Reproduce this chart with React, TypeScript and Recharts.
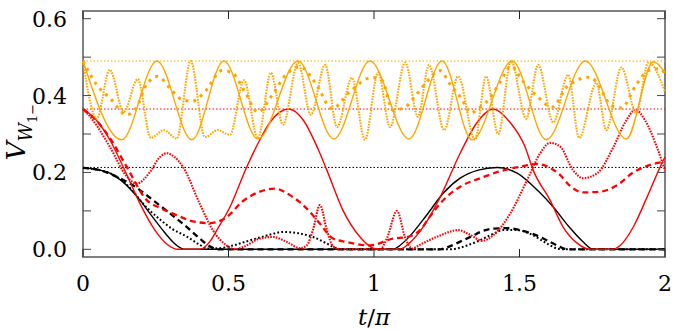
import { LineChart, Line, XAxis, YAxis, ReferenceLine, ReferenceArea } from 'recharts';

type Pt = [number, number];

// x in units of t/pi, y = V_{W1-}
const orangeSolid: Pt[] = [
  [0, 0.49], [0.133, 0.285], [0.254, 0.49], [0.374, 0.285], [0.484, 0.49], [0.601, 0.287],
  [0.739, 0.49], [0.862, 0.287], [0.986, 0.49], [1.12, 0.287], [1.234, 0.49], [1.337, 0.285],
  [1.475, 0.49], [1.592, 0.285], [1.726, 0.49], [1.867, 0.287], [1.96, 0.488], [2.0, 0.46],
];

const orangeDashed: Pt[] = [
  [0, 0.49], [0.051, 0.424], [0.092, 0.394], [0.15, 0.35], [0.185, 0.37], [0.212, 0.42],
  [0.257, 0.45], [0.298, 0.42], [0.34, 0.39], [0.374, 0.385], [0.419, 0.41], [0.477, 0.465],
  [0.512, 0.46], [0.556, 0.41], [0.601, 0.357], [0.649, 0.4], [0.697, 0.454], [0.746, 0.475],
  [0.801, 0.43], [0.856, 0.366], [0.917, 0.41], [0.993, 0.447], [1.027, 0.44], [1.065, 0.362],
  [1.107, 0.37], [1.141, 0.398], [1.175, 0.43], [1.227, 0.465], [1.261, 0.43], [1.299, 0.394],
  [1.333, 0.355], [1.365, 0.37], [1.399, 0.394], [1.437, 0.44], [1.471, 0.477], [1.509, 0.44],
  [1.561, 0.398], [1.612, 0.37], [1.664, 0.424], [1.743, 0.448], [1.777, 0.42], [1.812, 0.376],
  [1.85, 0.368], [1.901, 0.428], [1.943, 0.465], [1.984, 0.47], [2.0, 0.455],
];

const orangeDotted: Pt[] = [
  [0, 0.49], [0.047, 0.34], [0.092, 0.467], [0.14, 0.357], [0.188, 0.443], [0.233, 0.29],
  [0.278, 0.31], [0.322, 0.288], [0.37, 0.49], [0.419, 0.292], [0.463, 0.31], [0.505, 0.298],
  [0.553, 0.44], [0.601, 0.289], [0.646, 0.459], [0.687, 0.324], [0.739, 0.485], [0.783, 0.35],
  [0.832, 0.48], [0.873, 0.318], [0.924, 0.446], [0.969, 0.285], [1.014, 0.46], [1.055, 0.318],
  [1.107, 0.486], [1.151, 0.345], [1.189, 0.48], [1.241, 0.31], [1.289, 0.45], [1.347, 0.285],
  [1.385, 0.45], [1.427, 0.3], [1.471, 0.49], [1.523, 0.34], [1.564, 0.48], [1.616, 0.33],
  [1.667, 0.454], [1.705, 0.29], [1.764, 0.433], [1.798, 0.31], [1.85, 0.473], [1.901, 0.355],
  [1.943, 0.486], [2.0, 0.41],
];

const redSolid: Pt[] = [
  [0, 0.365], [0.047, 0.335], [0.092, 0.285], [0.147, 0.2], [0.195, 0.12], [0.247, 0.05],
  [0.291, 0.012], [0.326, 0], [0.401, 0], [0.436, 0.02], [0.46, 0.05], [0.505, 0.11],
  [0.563, 0.215], [0.608, 0.285], [0.642, 0.33], [0.708, 0.365], [0.756, 0.337], [0.814, 0.25],
  [0.838, 0.206], [0.893, 0.102], [0.952, 0.032], [0.997, 0.003], [1.021, 0], [1.089, 0],
  [1.124, 0.018], [1.175, 0.065], [1.227, 0.135], [1.296, 0.25], [1.354, 0.33], [1.409, 0.365],
  [1.468, 0.33], [1.519, 0.267], [1.547, 0.206], [1.605, 0.128], [1.65, 0.058], [1.698, 0.016],
  [1.743, 0], [1.819, 0], [1.846, 0.01], [1.891, 0.058], [1.939, 0.137], [1.984, 0.215], [2.0, 0.24],
];

const redDashed: Pt[] = [
  [0, 0.365], [0.04, 0.34], [0.092, 0.29], [0.15, 0.215], [0.219, 0.128], [0.264, 0.108],
  [0.309, 0.093], [0.377, 0.073], [0.436, 0.068], [0.494, 0.084], [0.549, 0.125], [0.608, 0.15],
  [0.659, 0.158], [0.711, 0.141], [0.769, 0.106], [0.814, 0.067], [0.859, 0.028], [0.907, 0.019],
  [0.986, 0.01], [1.065, 0.028], [1.114, 0.032], [1.158, 0.05], [1.192, 0.085], [1.227, 0.119],
  [1.296, 0.163], [1.365, 0.185], [1.433, 0.203], [1.502, 0.215], [1.561, 0.222], [1.605, 0.212],
  [1.64, 0.193], [1.671, 0.167], [1.719, 0.148], [1.777, 0.15], [1.836, 0.167], [1.891, 0.2],
  [1.96, 0.222], [2.0, 0.228],
];

const redDotted: Pt[] = [
  [0, 0.365], [0.033, 0.337], [0.092, 0.267], [0.15, 0.19], [0.185, 0.171], [0.229, 0.2],
  [0.264, 0.24], [0.288, 0.25], [0.315, 0.24], [0.343, 0.215], [0.401, 0.119], [0.446, 0.05],
  [0.494, 0.01], [0.522, 0], [0.556, 0.008], [0.608, 0.028], [0.653, 0.032], [0.701, 0.019],
  [0.746, 0.003], [0.769, 0.01], [0.79, 0.05], [0.814, 0.115], [0.838, 0.05], [0.859, 0.008],
  [0.883, 0], [1.021, 0], [1.045, 0.03], [1.079, 0.1], [1.107, 0.03], [1.131, 0.002],
  [1.158, 0.012], [1.227, 0.036], [1.289, 0.05], [1.33, 0.038], [1.372, 0.022], [1.409, 0.036],
  [1.468, 0.093], [1.526, 0.18], [1.571, 0.25], [1.605, 0.277], [1.64, 0.267], [1.684, 0.206],
  [1.719, 0.185], [1.767, 0.198], [1.822, 0.265], [1.863, 0.33], [1.898, 0.363], [1.932, 0.335],
  [1.97, 0.27], [2.0, 0.205],
];

const blackSolid: Pt[] = [
  [0, 0.212], [0.047, 0.208], [0.092, 0.198], [0.133, 0.178], [0.171, 0.15], [0.202, 0.122],
  [0.229, 0.094], [0.274, 0.05], [0.298, 0.028], [0.322, 0.01], [0.352, 0], [1.065, 0],
  [1.089, 0.01], [1.124, 0.035], [1.182, 0.09], [1.237, 0.145], [1.296, 0.185], [1.358, 0.206],
  [1.423, 0.213], [1.492, 0.198], [1.561, 0.154], [1.616, 0.11], [1.671, 0.058], [1.719, 0.019],
  [1.753, 0], [2.0, 0],
];

const blackDashed: Pt[] = [
  [0, 0.212], [0.057, 0.206], [0.126, 0.185], [0.185, 0.16], [0.24, 0.128], [0.298, 0.094],
  [0.357, 0.058], [0.401, 0.028], [0.443, 0.005], [0.463, 0], [1.227, 0], [1.251, 0.005],
  [1.296, 0.02], [1.341, 0.036], [1.365, 0.045], [1.409, 0.054], [1.457, 0.055], [1.502, 0.05],
  [1.571, 0.032], [1.63, 0.01], [1.664, 0], [2.0, 0],
];

const blackDotted: Pt[] = [
  [0, 0.212], [0.092, 0.198], [0.171, 0.152], [0.205, 0.12], [0.264, 0.078], [0.309, 0.052],
  [0.357, 0.033], [0.401, 0.012], [0.429, 0.002], [0.47, 0.003], [0.515, 0.01], [0.573, 0.023],
  [0.632, 0.036], [0.687, 0.045], [0.746, 0.041], [0.79, 0.032], [0.838, 0.015], [0.873, 0.002],
  [0.9, 0], [1.261, 0], [1.32, 0.01], [1.354, 0.02], [1.409, 0.04], [1.444, 0.05], [1.492, 0.05],
  [1.537, 0.04], [1.595, 0.015], [1.63, 0.002], [1.657, 0], [2.0, 0],
];

const orangeLevel = 0.49;
const redLevel = 0.365;
const blackLevel = 0.213;

const xTicks = [0, 0.5, 1, 1.5, 2];
const xTickLabels = ['0', '0.5', '1', '1.5', '2'];
const yTicks = [0, 0.1, 0.2, 0.3, 0.4, 0.5, 0.6];
const yTickLabels = ['0.0', '', '0.2', '', '0.4', '', '0.6'];

const ORANGE = '#ffa500';
const RED = '#ff0000';
const BLACK = '#000000';
const FONT = '"DejaVu Serif", serif';

// plot box in pixels (must agree with margin / axis sizes below)
const PL = 83;
const PR = 665;
const PT = 11;
const PB = 257;

const toRows = (pts: Pt[]) => pts.map(([x, y]) => ({ x, y }));

const SOLID = { strokeWidth: 1.4 };
const DASHED = { strokeWidth: 2.3, strokeDasharray: '6 4' };
const DOTTED = { strokeWidth: 2.1, strokeDasharray: '1.6 1.2' };

const series = [
  { key: 'bs', pts: blackSolid, color: BLACK, style: SOLID },
  { key: 'bd', pts: blackDashed, color: BLACK, style: DASHED },
  { key: 'bo', pts: blackDotted, color: BLACK, style: { strokeWidth: 2, strokeDasharray: '1.8 2.2' } },
  { key: 'rs', pts: redSolid, color: RED, style: SOLID },
  { key: 'rd', pts: redDashed, color: RED, style: DASHED },
  { key: 'ro', pts: redDotted, color: RED, style: DOTTED },
  { key: 'os', pts: orangeSolid, color: ORANGE, style: SOLID },
  { key: 'od', pts: orangeDashed, color: ORANGE, style: { strokeWidth: 3, strokeDasharray: '3 5' } },
  { key: 'oo', pts: orangeDotted, color: ORANGE, style: DOTTED },
];

const YTick = (props: any) => {
  const { y, payload } = props;
  const label = yTickLabels[yTicks.indexOf(payload.value)] || '';
  return (
    <g>
      <line x1={PL} x2={PL + 8} y1={y} y2={y} stroke="#444" strokeWidth={1} />
      <line x1={PR - 8} x2={PR} y1={y} y2={y} stroke="#444" strokeWidth={1} />
      {label && (
        <text x={67} y={y + 8} textAnchor="end" fontFamily={FONT} fontSize={22} fill="#000">
          {label}
        </text>
      )}
    </g>
  );
};

const XTick = (props: any) => {
  const { x, payload } = props;
  const label = xTickLabels[xTicks.indexOf(payload.value)] ?? '';
  return (
    <g>
      <line x1={x} x2={x} y1={PB} y2={PB - 8} stroke="#222" strokeWidth={1} />
      <line x1={x} x2={x} y1={PT} y2={PT + 8} stroke="#222" strokeWidth={1} />
      <text x={x} y={291} textAnchor="middle" fontFamily={FONT} fontSize={22} fill="#000">
        {label}
      </text>
    </g>
  );
};

const YLabel = () => (
  <text
    x={25}
    y={132}
    transform="rotate(-90, 25, 132)"
    textAnchor="middle"
    fontFamily={FONT}
    fill="#000"
  >
    <tspan fontStyle="italic" fontSize={26}>V</tspan>
    <tspan fontStyle="italic" fontSize={18} dy={7}>W</tspan>
    <tspan fontSize={13} dy={5}>1−</tspan>
  </text>
);

const XLabel = () => (
  <text x={374} y={325} textAnchor="middle" fontFamily={FONT} fontSize={23} fill="#000">
    <tspan fontStyle="italic">t</tspan>
    <tspan>/</tspan>
    <tspan fontStyle="italic">π</tspan>
  </text>
);

export default function App() {
  return (
    <div style={{ position: 'fixed', left: 0, top: 0, width: 700, height: 330, background: '#fff' }}>
      <LineChart width={700} height={330} margin={{ top: PT, right: 700 - PR, bottom: 0, left: 0 }}>
        <XAxis
          dataKey="x"
          type="number"
          domain={[0, 2]}
          ticks={xTicks}
          interval={0}
          axisLine={false}
          tickLine={false}
          tick={<XTick />}
          height={330 - PB}
          label={<XLabel />}
        />
        <YAxis
          type="number"
          domain={[-0.02, 0.62]}
          ticks={yTicks}
          interval={0}
          axisLine={false}
          tickLine={false}
          tick={<YTick />}
          width={PL}
          label={<YLabel />}
        />
        <ReferenceLine y={orangeLevel} stroke={ORANGE} strokeDasharray="1.5 2" strokeWidth={1} />
        <ReferenceLine y={redLevel} stroke={RED} strokeDasharray="1.5 2" strokeWidth={1} />
        <ReferenceLine y={blackLevel} stroke={BLACK} strokeDasharray="1.5 2" strokeWidth={1} />
        {series.map((s) => (
          <Line
            key={s.key}
            data={toRows(s.pts)}
            dataKey="y"
            type="monotone"
            stroke={s.color}
            {...s.style}
            dot={false}
            activeDot={false}
            isAnimationActive={false}
          />
        ))}
        <ReferenceArea
          x1={0}
          x2={2}
          y1={-0.02}
          y2={0.62}
          fill="none"
          stroke="#808080"
          strokeWidth={2}
          ifOverflow="visible"
        />
      </LineChart>
    </div>
  );
}
